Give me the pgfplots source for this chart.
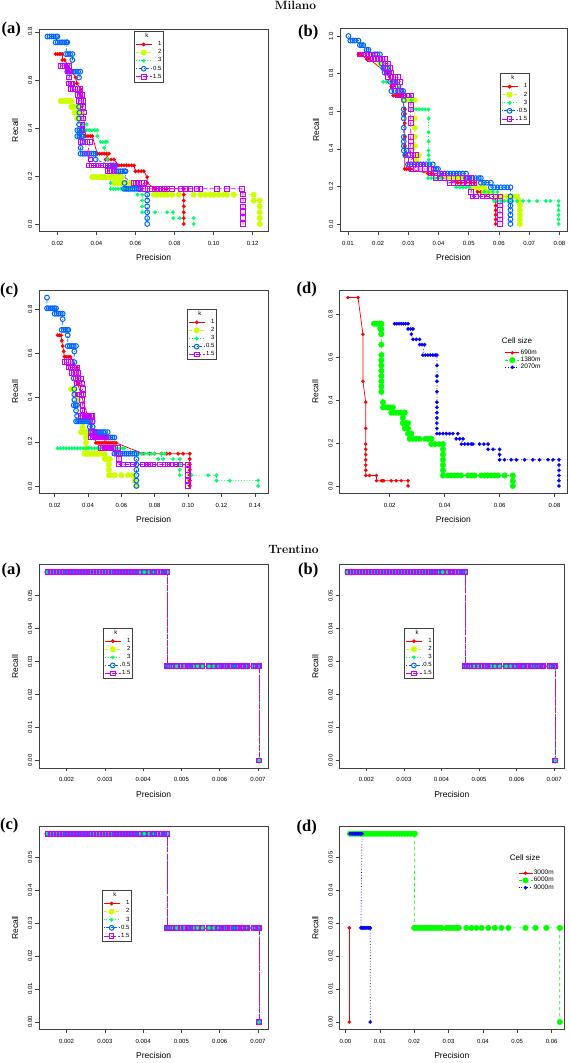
\documentclass[border=0pt]{standalone}
\usepackage{fontspec}
\usepackage{pgfplots}
\usepackage{pgfplotstable}
\pgfplotsset{compat=1.18}
\newfontfamily\sans{Liberation Sans}
\newfontfamily\tnr{Liberation Serif}
\newcommand{\tkf}{\sans\fontsize{6}{7}\selectfont}
\newcommand{\labf}{\sans\fontsize{8.5}{10}\selectfont}
\newcommand{\lgf}{\sans\fontsize{6}{7}\selectfont}
\newcommand{\pnl}{\tnr\bfseries\fontsize{16.5}{18}\selectfont}
\definecolor{rRed}{HTML}{FF0000}
\definecolor{rYel}{HTML}{CCFF00}
\definecolor{rGrn}{HTML}{00FF66}
\definecolor{rBlu}{HTML}{0066FF}
\definecolor{rMag}{HTML}{CC00FF}
\definecolor{dGrn}{HTML}{00FF00}
\definecolor{dBlu}{HTML}{0000FF}
\pgfplotsset{
  rbase/.style={
    scale only axis,
    axis line style={black!75, line width=0.55pt},
    tick align=outside, tick pos=left,
    major tick length=3.5pt,
    every tick/.style={black!75, line width=0.55pt},
    tick label style={font=\tkf, inner sep=0pt},
    yticklabel style={rotate=90, anchor=south},
    xticklabel style={anchor=north},
    xticklabel shift=6pt, yticklabel shift=3pt,
    xlabel={Precision}, ylabel={Recall},
    every axis x label/.style={at={(axis description cs:0.5,0)}, anchor=center, yshift=-26pt, font=\labf},
    every axis y label/.style={at={(axis description cs:0,0.5)}, anchor=center, xshift=-24pt, rotate=90, font=\labf},
    legend image code/.code={\draw[mark repeat=2, mark phase=2, ##1] plot coordinates {(0pt,0pt) (8pt,0pt) (16pt,0pt)};},
    legend cell align=right,
    scaled ticks=false,
  },
  klegend/.style={legend style={at={(#1)}, anchor=north west, draw=black!75, fill=white, font=\lgf, inner xsep=1pt, inner ysep=1.2pt, row sep=0.4pt, nodes={inner sep=1pt}}},
  dlegend/.style={legend style={at={(#1)}, anchor=north west, draw=none, fill=none, font=\sans\fontsize{6.5}{7}\selectfont, inner xsep=0pt, inner ysep=0pt, row sep=-0.8pt, nodes={inner sep=1pt}},
    legend cell align=left,
    legend image code/.code={\draw[mark repeat=2, mark phase=2, ##1] plot coordinates {(0pt,0pt) (7pt,0pt) (14pt,0pt)};}},
  kone/.style={draw=rRed, line width=0.75pt, solid, mark=*, mark size=1.8pt, mark options={solid, fill=rRed, draw=rRed, line width=0.3pt}},
  ktwo/.style={draw=rYel, line width=0.75pt, dash pattern=on 3pt off 3pt, mark=*, mark size=2.8pt, mark options={solid, fill=rYel, draw=rYel, line width=0.3pt}},
  kthree/.style={draw=rGrn, line width=0.75pt, dash pattern=on 0.8pt off 2pt, mark=*, mark size=1.8pt, mark options={solid, fill=rGrn, draw=rGrn, line width=0.3pt}},
  khalf/.style={draw=rBlu, line width=0.75pt, dash pattern=on 0.8pt off 2pt on 3pt off 2pt, mark=o, mark size=2.4pt, mark options={solid, draw=rBlu, line width=1pt}},
  kofive/.style={draw=rMag, line width=0.75pt, dash pattern=on 5pt off 2pt, mark=square, mark size=2.3pt, mark options={solid, draw=rMag, line width=1pt}},
  cA/.style={draw=rRed, line width=0.7pt, solid, mark=*, mark size=1.6pt, mark options={solid, fill=rRed, draw=rRed, line width=0.3pt}},
  cB/.style={draw=dGrn, line width=0.7pt, dash pattern=on 3pt off 3pt, mark=*, mark size=2.8pt, mark options={solid, fill=dGrn, draw=dGrn, line width=0.3pt}},
  cC/.style={draw=dBlu, line width=0.7pt, dash pattern=on 0.8pt off 2pt, mark=*, mark size=1.7pt, mark options={solid, fill=dBlu, draw=dBlu, line width=0.3pt}},
  ttick/.style={xmin=0.00128, xmax=0.00727, ymin=-0.00229, ymax=0.0594,
    xtick={0.002,0.003,0.004,0.005,0.006,0.007}, xticklabels={0.002,0.003,0.004,0.005,0.006,0.007},
    ytick={0,0.01,0.02,0.03,0.04,0.05}, yticklabels={0.00,0.01,0.02,0.03,0.04,0.05}},
}
\pgfplotstableread{
p r
0.00150 0.05714
0.00158 0.05714
0.00166 0.05714
0.00174 0.05714
0.00182 0.05714
0.00190 0.05714
0.00198 0.05714
0.00206 0.05714
0.00214 0.05714
0.00222 0.05714
0.00230 0.05714
0.00238 0.05714
0.00246 0.05714
0.00254 0.05714
0.00262 0.05714
0.00270 0.05714
0.00278 0.05714
0.00286 0.05714
0.00294 0.05714
0.00302 0.05714
0.00310 0.05714
0.00318 0.05714
0.00326 0.05714
0.00334 0.05714
0.00342 0.05714
0.00350 0.05714
0.00358 0.05714
0.00366 0.05714
0.00374 0.05714
0.00382 0.05714
0.00390 0.05714
0.00403 0.05714
0.00416 0.05714
0.00424 0.05714
0.00429 0.05714
0.00437 0.05714
0.00446 0.05714
0.00455 0.05714
0.00463 0.05714
0.00463 0.02857
0.00468 0.02857
0.00474 0.02857
0.00488 0.02857
0.00498 0.02857
0.00507 0.02857
0.00516 0.02857
0.00523 0.02857
0.00531 0.02857
0.00542 0.02857
0.00555 0.02857
0.00572 0.02857
0.00585 0.02857
0.00594 0.02857
0.00598 0.02857
0.00605 0.02857
0.00614 0.02857
0.00620 0.02857
0.00629 0.02857
0.00637 0.02857
0.00643 0.02857
0.00649 0.02857
0.00657 0.02857
0.00662 0.02857
0.00668 0.02857
0.00672 0.02857
0.00688 0.02857
0.00694 0.02857
0.00700 0.02857
0.00703 0.02857
0.00703 0
}\trentTab
\begin{document}
\begin{tikzpicture}
\path[use as bounding box] (0pt,0pt) rectangle (570pt,1063pt);
\node[font=\bfseries\fontsize{12}{14}\selectfont, anchor=base] at (295.5pt,1053pt) {Milano};
\node[font=\bfseries\fontsize{12}{14}\selectfont, anchor=base] at (293.5pt,509pt) {Trentino};
\node[font=\pnl] at (11.2pt,1033pt) {(a)};
\node[font=\pnl] at (308.3pt,1030pt) {(b)};
\node[font=\pnl] at (9.2pt,772.2pt) {(c)};
\node[font=\pnl] at (306.7pt,773.2pt) {(d)};
\node[font=\pnl] at (11.2pt,492.5pt) {(a)};
\node[font=\pnl] at (308.3pt,492.5pt) {(b)};
\node[font=\pnl] at (9.2pt,237.5pt) {(c)};
\node[font=\pnl] at (306.7pt,235.5pt) {(d)};

% ---------------- Milano (a)
\begin{axis}[rbase, at={(39pt,1034pt)}, anchor=north west, width=229.3pt, height=202.5pt,
  xmin=0.0106, xmax=0.1280, ymin=-0.0312, ymax=0.8117,
  xtick={0.02,0.04,0.06,0.08,0.10,0.12}, xticklabels={0.02,0.04,0.06,0.08,0.10,0.12},
  ytick={0,0.2,0.4,0.6,0.8}, yticklabels={0.0,0.2,0.4,0.6,0.8},
  klegend={0.415,0.99}]
\addlegendimage{empty legend}\addlegendentry{\llap{k\hspace{13pt}}}
\addplot[kone] coordinates {(0.0191,0.7073)(0.0200,0.7073)(0.0210,0.7073)(0.0218,0.7073)(0.0226,0.7073)
(0.0226,0.6829)(0.0237,0.6829)(0.0294,0.6098)(0.0300,0.5854)(0.0319,0.5610)
(0.0345,0.3659)(0.0357,0.3659)(0.0369,0.3659)(0.0379,0.3659)
(0.0404,0.2927)(0.0416,0.2927)(0.0428,0.2927)(0.0440,0.2927)(0.0452,0.2927)(0.0464,0.2927)
(0.0447,0.2683)(0.0460,0.2683)(0.0475,0.2683)(0.0490,0.2683)
(0.0515,0.2439)(0.0528,0.2439)(0.0541,0.2439)(0.0554,0.2439)(0.0567,0.2439)(0.0580,0.2439)(0.0592,0.2439)
(0.0600,0.2195)(0.0615,0.2195)(0.0630,0.2195)(0.0643,0.2195)
(0.0660,0.1951)(0.0660,0.1707)(0.0700,0.1463)(0.0760,0.1463)(0.0847,0.1463)
(0.0847,0.1220)(0.0847,0.0976)(0.0847,0.0732)(0.0847,0.0488)(0.0847,0.0244)(0.0847,0)};
\addlegendentry{1}
\addplot[ktwo] coordinates {(0.0217,0.5122)(0.0228,0.5122)(0.0239,0.5122)(0.0250,0.5122)(0.0261,0.5122)(0.0272,0.5122)
(0.0272,0.4878)(0.0283,0.4878)(0.0294,0.4878)(0.0305,0.4878)
(0.0288,0.4634)(0.0299,0.4634)(0.0310,0.4634)(0.0319,0.4634)
(0.0302,0.4390)(0.0313,0.4390)
(0.0379,0.1951)(0.0391,0.1951)(0.0403,0.1951)(0.0415,0.1951)(0.0427,0.1951)(0.0439,0.1951)(0.0451,0.1951)(0.0463,0.1951)(0.0475,0.1951)(0.0487,0.1951)(0.0499,0.1951)(0.0511,0.1951)(0.0523,0.1951)(0.0530,0.1951)
(0.0490,0.1707)(0.0502,0.1707)(0.0514,0.1707)(0.0526,0.1707)(0.0538,0.1707)(0.0550,0.1707)(0.0562,0.1707)(0.0574,0.1707)(0.0583,0.1707)
(0.0694,0.1220)(0.0710,0.1220)(0.0728,0.1220)(0.0745,0.1220)(0.0762,0.1220)(0.0788,0.1220)(0.0822,0.1220)(0.0898,0.1220)(0.0933,0.1220)(0.0958,0.1220)(0.0984,0.1220)(0.1001,0.1220)(0.1026,0.1220)(0.1052,0.1220)(0.1069,0.1220)(0.1103,0.1220)(0.1205,0.1220)
(0.1205,0.0976)(0.1236,0.0976)(0.1236,0.0732)(0.1236,0.0488)(0.1236,0.0244)(0.1236,0)};
\addlegendentry{2}
\addplot[kthree] coordinates {(0.0336,0.4146)(0.0350,0.4146)
(0.0336,0.3902)(0.0350,0.3902)(0.0364,0.3902)(0.0378,0.3902)(0.0392,0.3902)(0.0404,0.3902)
(0.0404,0.3659)(0.0421,0.3415)(0.0433,0.3415)(0.0445,0.3415)(0.0454,0.3415)
(0.0440,0.3171)(0.0456,0.2683)(0.0473,0.1707)
(0.0473,0.1463)(0.0486,0.1463)(0.0499,0.1463)(0.0512,0.1463)(0.0525,0.1463)(0.0538,0.1463)(0.0551,0.1463)(0.0564,0.1463)(0.0575,0.1463)
(0.0610,0.1220)(0.0634,0.1220)(0.0634,0.0976)(0.0634,0.0732)
(0.0634,0.0488)(0.0700,0.0488)(0.0762,0.0488)(0.0793,0.0488)
(0.0793,0.0244)(0.0827,0.0244)(0.0898,0.0244)(0.0898,0)};
\addlegendentry{3}
\addplot[khalf] coordinates {(0.0149,0.7805)(0.0160,0.7805)(0.0171,0.7805)(0.0182,0.7805)(0.0193,0.7805)(0.0200,0.7805)
(0.0191,0.7561)(0.0202,0.7561)(0.0213,0.7561)(0.0224,0.7561)(0.0235,0.7561)(0.0246,0.7561)(0.0251,0.7561)
(0.0243,0.7073)(0.0254,0.7073)(0.0265,0.7073)(0.0277,0.7073)(0.0277,0.6829)
(0.0251,0.6341)(0.0262,0.6341)(0.0273,0.6341)(0.0284,0.6341)(0.0295,0.6341)(0.0306,0.6341)(0.0317,0.6341)
(0.0311,0.6098)(0.0311,0.4878)(0.0313,0.4634)(0.0311,0.4390)(0.0311,0.4146)
(0.0302,0.3902)(0.0313,0.3902)(0.0324,0.3902)(0.0330,0.3902)
(0.0302,0.3659)(0.0313,0.3659)(0.0324,0.3659)(0.0330,0.3659)
(0.0328,0.3415)(0.0319,0.3171)
(0.0319,0.2927)(0.0330,0.2927)(0.0341,0.2927)(0.0352,0.2927)(0.0363,0.2927)(0.0374,0.2927)(0.0385,0.2927)(0.0396,0.2927)
(0.0396,0.2683)(0.0473,0.2439)(0.0486,0.2439)(0.0498,0.2439)
(0.0490,0.2195)(0.0501,0.2195)(0.0512,0.2195)(0.0523,0.2195)(0.0534,0.2195)(0.0545,0.2195)(0.0549,0.2195)
(0.0544,0.1707)
(0.0541,0.1463)(0.0552,0.1463)(0.0563,0.1463)(0.0574,0.1463)(0.0585,0.1463)(0.0596,0.1463)(0.0607,0.1463)(0.0618,0.1463)(0.0626,0.1463)
(0.0660,0.1220)(0.0660,0.0976)(0.0660,0.0732)(0.0660,0.0488)(0.0660,0.0244)(0.0660,0)};
\addlegendentry{0.5}
\addplot[kofive] coordinates {(0.0217,0.6585)(0.0228,0.6585)(0.0239,0.6585)(0.0250,0.6585)(0.0260,0.6585)
(0.0251,0.6341)(0.0260,0.6341)(0.0268,0.6341)(0.0260,0.6098)
(0.0260,0.5854)(0.0270,0.5854)(0.0277,0.5854)
(0.0268,0.5610)(0.0280,0.5610)(0.0292,0.5610)(0.0305,0.5610)(0.0315,0.5610)
(0.0307,0.5366)(0.0316,0.5366)(0.0325,0.5366)
(0.0311,0.5122)(0.0322,0.5122)(0.0334,0.5122)
(0.0332,0.4878)(0.0336,0.4634)(0.0332,0.4390)(0.0328,0.4146)(0.0328,0.3902)
(0.0319,0.3415)(0.0331,0.3415)(0.0343,0.3415)(0.0355,0.3415)(0.0368,0.3415)
(0.0353,0.2927)(0.0369,0.2683)
(0.0362,0.2439)(0.0374,0.2439)(0.0386,0.2439)(0.0398,0.2439)(0.0410,0.2439)(0.0422,0.2439)(0.0434,0.2439)(0.0446,0.2439)(0.0458,0.2439)(0.0470,0.2439)(0.0482,0.2439)(0.0490,0.2439)
(0.0456,0.2195)(0.0468,0.2195)(0.0480,0.2195)(0.0490,0.2195)
(0.0590,0.1707)(0.0604,0.1707)(0.0618,0.1707)(0.0632,0.1707)(0.0643,0.1707)
(0.0626,0.1463)(0.0638,0.1463)(0.0650,0.1463)(0.0662,0.1463)(0.0674,0.1463)(0.0686,0.1463)(0.0698,0.1463)(0.0710,0.1463)(0.0728,0.1463)(0.0745,0.1463)(0.0762,0.1463)(0.0788,0.1463)(0.0830,0.1463)(0.0856,0.1463)(0.0882,0.1463)(0.0916,0.1463)(0.0933,0.1463)(0.1018,0.1463)(0.1070,0.1463)(0.1145,0.1463)
(0.1151,0.1220)(0.1151,0.0976)(0.1151,0.0732)(0.1151,0.0488)(0.1151,0.0244)(0.1151,0)};
\addlegendentry{1.5}
\end{axis}

% ---------------- Milano (b)
\begin{axis}[rbase, at={(340pt,1034.5pt)}, anchor=north west, width=227pt, height=203pt,
  xmin=0.0074, xmax=0.0825, ymin=-0.04, ymax=1.04,
  xtick={0.01,0.02,0.03,0.04,0.05,0.06,0.07,0.08}, xticklabels={0.01,0.02,0.03,0.04,0.05,0.06,0.07,0.08},
  ytick={0,0.2,0.4,0.6,0.8,1.0}, yticklabels={0.0,0.2,0.4,0.6,0.8,1.0},
  klegend={0.705,0.78}]
\addlegendimage{empty legend}\addlegendentry{\llap{k\hspace{13pt}}}
\addplot[kone] coordinates {(0.0135,0.9024)(0.0143,0.9024)(0.0162,0.8780)(0.0170,0.8780)
(0.0228,0.8049)(0.0244,0.7561)(0.0244,0.7317)
(0.0250,0.6829)(0.0258,0.6829)(0.0266,0.6829)(0.0277,0.6829)
(0.0288,0.6098)(0.0288,0.5854)(0.0288,0.5366)(0.0288,0.4634)(0.0288,0.4146)(0.0288,0.3659)
(0.0288,0.2927)(0.0294,0.2927)(0.0300,0.2927)(0.0306,0.2927)
(0.0365,0.2683)(0.0376,0.2683)
(0.0463,0.2195)(0.0475,0.2195)(0.0490,0.2195)(0.0505,0.2195)(0.0518,0.2195)
(0.0529,0.1707)(0.0540,0.1707)
(0.0589,0.1220)(0.0589,0.0976)(0.0589,0.0732)(0.0589,0.0488)(0.0589,0.0244)(0.0589,0)};
\addlegendentry{1}
\addplot[ktwo] coordinates {(0.0184,0.9024)(0.0206,0.8537)(0.0212,0.8537)(0.0233,0.8293)(0.0242,0.8049)(0.0250,0.7805)
(0.0290,0.6585)(0.0300,0.6585)(0.0310,0.6585)(0.0321,0.6585)
(0.0321,0.5610)(0.0321,0.5122)(0.0321,0.4634)(0.0321,0.4146)
(0.0321,0.3659)(0.0328,0.3659)(0.0335,0.3659)(0.0326,0.3415)
(0.0430,0.2439)(0.0440,0.2439)(0.0450,0.2439)(0.0462,0.2439)(0.0474,0.2439)(0.0485,0.2439)
(0.0507,0.1951)(0.0520,0.1951)(0.0535,0.1951)(0.0551,0.1951)
(0.0551,0.1707)(0.0562,0.1707)(0.0573,0.1707)
(0.0595,0.1463)(0.0610,0.1463)(0.0627,0.1463)(0.0645,0.1463)(0.0660,0.1463)
(0.0666,0.1220)(0.0669,0.0976)(0.0669,0.0732)(0.0669,0.0488)(0.0669,0.0244)(0.0669,0)};
\addlegendentry{2}
\addplot[kthree] coordinates {(0.0217,0.7561)(0.0228,0.7561)(0.0272,0.7317)(0.0310,0.6585)
(0.0316,0.6098)(0.0326,0.6098)(0.0336,0.6098)(0.0346,0.6098)(0.0356,0.6098)(0.0367,0.6098)
(0.0367,0.5610)(0.0367,0.4878)(0.0367,0.4390)(0.0367,0.3902)(0.0367,0.3659)(0.0367,0.3415)(0.0367,0.3171)
(0.0365,0.2439)(0.0376,0.2439)(0.0387,0.2439)(0.0398,0.2439)(0.0409,0.2439)
(0.0458,0.1951)(0.0470,0.1951)(0.0480,0.1951)(0.0491,0.1951)(0.0502,0.1951)
(0.0551,0.1707)(0.0565,0.1707)(0.0580,0.1707)(0.0595,0.1707)
(0.0584,0.1220)(0.0595,0.1220)(0.0606,0.1220)(0.0617,0.1220)(0.0630,0.1220)(0.0645,0.1220)(0.0660,0.1220)(0.0680,0.1220)(0.0700,0.1220)(0.0726,0.1220)(0.0755,0.1220)(0.0770,0.1220)(0.0797,0.1220)
(0.0797,0.0976)(0.0797,0.0732)(0.0797,0.0488)(0.0797,0.0244)(0.0797,0)};
\addlegendentry{3}
\addplot[khalf] coordinates {(0.0102,1.0000)(0.0108,0.9756)(0.0116,0.9756)(0.0124,0.9756)(0.0135,0.9756)
(0.0140,0.9512)(0.0146,0.9512)(0.0151,0.9512)(0.0162,0.9268)(0.0168,0.9268)
(0.0190,0.9024)(0.0197,0.9024)(0.0206,0.9024)(0.0212,0.8537)
(0.0217,0.8293)(0.0225,0.8293)(0.0230,0.8293)(0.0222,0.8049)(0.0230,0.8049)(0.0235,0.8049)
(0.0240,0.7561)(0.0250,0.7561)(0.0255,0.7561)
(0.0244,0.7073)(0.0255,0.7073)(0.0266,0.7073)(0.0277,0.7073)(0.0283,0.7073)
(0.0285,0.6585)(0.0285,0.6098)(0.0285,0.5854)(0.0285,0.5610)(0.0285,0.5122)(0.0285,0.4634)(0.0285,0.4390)(0.0285,0.4146)
(0.0285,0.3902)(0.0295,0.3902)(0.0290,0.3659)(0.0300,0.3659)
(0.0299,0.3171)(0.0310,0.3171)(0.0320,0.3171)(0.0330,0.3171)(0.0340,0.3171)(0.0350,0.3171)(0.0360,0.3171)(0.0370,0.3171)(0.0381,0.3171)
(0.0385,0.2927)(0.0392,0.2927)(0.0398,0.2927)
(0.0409,0.2683)(0.0420,0.2683)(0.0430,0.2683)(0.0440,0.2683)(0.0450,0.2683)(0.0460,0.2683)(0.0470,0.2683)(0.0480,0.2683)(0.0491,0.2683)
(0.0491,0.2439)(0.0502,0.2439)(0.0512,0.2439)(0.0523,0.2439)(0.0533,0.2439)(0.0540,0.2439)
(0.0540,0.2195)(0.0550,0.2195)(0.0560,0.2195)(0.0573,0.2195)
(0.0573,0.1951)(0.0584,0.1951)(0.0595,0.1951)(0.0606,0.1951)(0.0617,0.1951)(0.0627,0.1951)(0.0638,0.1951)
(0.0638,0.1463)(0.0638,0.1220)(0.0638,0.0976)(0.0638,0.0732)(0.0638,0.0488)(0.0638,0.0244)(0.0638,0)};
\addlegendentry{0.5}
\addplot[kofive] coordinates {(0.0140,0.9024)(0.0150,0.9024)(0.0160,0.9024)(0.0170,0.9024)(0.0180,0.9024)(0.0190,0.9024)
(0.0173,0.8780)(0.0183,0.8780)(0.0193,0.8780)(0.0203,0.8780)(0.0213,0.8780)(0.0223,0.8780)
(0.0223,0.8537)(0.0233,0.8537)(0.0223,0.8293)(0.0233,0.8293)(0.0239,0.8293)
(0.0228,0.8049)(0.0236,0.8049)(0.0244,0.8049)
(0.0233,0.7805)(0.0244,0.7805)(0.0255,0.7805)(0.0266,0.7805)
(0.0255,0.7561)(0.0263,0.7561)(0.0272,0.7561)(0.0250,0.7317)(0.0258,0.7317)(0.0266,0.7317)
(0.0272,0.7073)(0.0266,0.6829)(0.0277,0.6829)(0.0288,0.6829)(0.0299,0.6829)(0.0310,0.6829)
(0.0308,0.6341)(0.0308,0.6098)(0.0308,0.5610)(0.0308,0.5366)(0.0308,0.4634)(0.0308,0.4390)(0.0308,0.4146)(0.0308,0.3902)
(0.0305,0.3659)(0.0316,0.3659)(0.0326,0.3659)(0.0308,0.3415)
(0.0305,0.3171)(0.0320,0.3171)(0.0335,0.3171)(0.0350,0.3171)
(0.0310,0.2927)(0.0325,0.2927)(0.0340,0.2927)(0.0355,0.2927)(0.0370,0.2927)(0.0376,0.2927)
(0.0376,0.2683)(0.0390,0.2683)(0.0405,0.2683)(0.0414,0.2683)
(0.0392,0.2439)(0.0405,0.2439)(0.0420,0.2439)(0.0435,0.2439)(0.0450,0.2439)(0.0465,0.2439)(0.0480,0.2439)(0.0495,0.2439)(0.0507,0.2439)
(0.0436,0.2195)(0.0450,0.2195)(0.0465,0.2195)(0.0480,0.2195)(0.0495,0.2195)(0.0510,0.2195)(0.0518,0.2195)
(0.0507,0.1707)(0.0512,0.1463)(0.0523,0.1463)(0.0545,0.1463)(0.0560,0.1463)(0.0575,0.1463)(0.0590,0.1463)(0.0603,0.1463)
(0.0603,0.1220)(0.0603,0.0976)(0.0603,0.0732)(0.0603,0.0488)(0.0603,0.0244)(0.0603,0)};
\addlegendentry{1.5}
\end{axis}

% ---------------- Milano (c)
\begin{axis}[rbase, at={(39pt,773pt)}, anchor=north west, width=229.3pt, height=203.5pt,
  xmin=0.0106, xmax=0.1481, ymin=-0.0342, ymax=0.888,
  xtick={0.02,0.04,0.06,0.08,0.10,0.12,0.14}, xticklabels={0.02,0.04,0.06,0.08,0.10,0.12,0.14},
  ytick={0,0.2,0.4,0.6,0.8}, yticklabels={0.0,0.2,0.4,0.6,0.8},
  klegend={0.646,0.907}]
\addlegendimage{empty legend}\addlegendentry{\llap{k\hspace{13pt}}}
\addplot[kone] coordinates {(0.0218,0.6829)(0.0228,0.6829)(0.0238,0.6829)(0.0242,0.6585)(0.0248,0.6341)(0.0254,0.6098)
(0.0258,0.5854)(0.0270,0.5854)(0.0282,0.5854)(0.0294,0.5854)(0.0334,0.5366)(0.0338,0.4634)
(0.0448,0.1951)(0.0460,0.1951)(0.0472,0.1951)(0.0484,0.1951)(0.0496,0.1951)(0.0508,0.1951)(0.0520,0.1951)(0.0532,0.1951)(0.0544,0.1951)(0.0556,0.1951)(0.0568,0.1951)
(0.0730,0.1463)(0.0770,0.1463)(0.0800,0.1463)(0.0840,0.1463)(0.0870,0.1463)(0.0890,0.1463)(0.0940,0.1463)(0.0970,0.1463)(0.1010,0.1463)
(0.1010,0.1220)(0.1010,0.0976)(0.1010,0.0732)(0.1010,0.0488)(0.1010,0.0244)(0.1010,0)};
\addlegendentry{1}
\addplot[ktwo] coordinates {(0.0298,0.4390)(0.0308,0.4390)(0.0318,0.4390)(0.0328,0.4146)(0.0338,0.3902)(0.0368,0.2683)
(0.0358,0.2439)(0.0370,0.2439)(0.0382,0.2439)(0.0394,0.2439)(0.0406,0.2439)(0.0418,0.2439)
(0.0388,0.2195)(0.0388,0.1951)(0.0388,0.1707)
(0.0378,0.1463)(0.0390,0.1463)(0.0402,0.1463)(0.0414,0.1463)(0.0426,0.1463)(0.0438,0.1463)(0.0450,0.1463)(0.0462,0.1463)(0.0474,0.1463)(0.0486,0.1463)(0.0498,0.1463)
(0.0500,0.1220)(0.0510,0.1220)(0.0520,0.1220)(0.0530,0.1220)(0.0525,0.0976)(0.0525,0.0732)
(0.0525,0.0488)(0.0535,0.0488)(0.0560,0.0488)(0.0600,0.0488)(0.0640,0.0488)(0.0670,0.0488)
(0.0680,0.0244)(0.0690,0)};
\addlegendentry{2}
\addplot[kthree] coordinates {(0.0218,0.1707)(0.0235,0.1707)(0.0252,0.1707)(0.0269,0.1707)(0.0286,0.1707)(0.0303,0.1707)(0.0320,0.1707)(0.0337,0.1707)(0.0354,0.1707)(0.0371,0.1707)(0.0388,0.1707)(0.0405,0.1707)(0.0422,0.1707)(0.0439,0.1707)(0.0456,0.1707)(0.0473,0.1707)(0.0490,0.1707)(0.0507,0.1707)(0.0524,0.1707)(0.0541,0.1707)(0.0558,0.1707)(0.0575,0.1707)(0.0592,0.1707)(0.0609,0.1707)(0.0618,0.1707)
(0.0700,0.1463)(0.0720,0.1463)(0.0740,0.1463)(0.0760,0.1463)(0.0780,0.1463)(0.0800,0.1463)(0.0840,0.1463)(0.0860,0.1463)
(0.0820,0.1220)(0.0850,0.1220)(0.0910,0.1220)(0.0950,0.1220)(0.0950,0.0976)(0.0950,0.0732)
(0.0950,0.0488)(0.1020,0.0488)(0.1120,0.0488)(0.1170,0.0488)
(0.1170,0.0244)(0.1250,0.0244)(0.1420,0.0244)(0.1420,0)};
\addlegendentry{3}
\addplot[khalf] coordinates {(0.0154,0.8537)
(0.0154,0.8049)(0.0165,0.8049)(0.0176,0.8049)(0.0187,0.8049)(0.0198,0.8049)(0.0208,0.8049)
(0.0200,0.7805)(0.0212,0.7805)(0.0224,0.7805)(0.0236,0.7805)(0.0248,0.7805)(0.0248,0.7561)
(0.0242,0.7073)(0.0254,0.7073)(0.0266,0.7073)(0.0278,0.7073)(0.0282,0.7073)(0.0278,0.6829)
(0.0278,0.6341)(0.0290,0.6341)(0.0302,0.6341)(0.0314,0.6341)(0.0328,0.6341)
(0.0318,0.6098)(0.0318,0.5610)(0.0314,0.4878)(0.0318,0.4390)(0.0318,0.4146)(0.0318,0.3902)
(0.0314,0.3659)(0.0326,0.3659)(0.0334,0.3659)(0.0328,0.3415)(0.0334,0.3171)
(0.0328,0.2927)(0.0340,0.2927)(0.0352,0.2927)(0.0364,0.2927)(0.0376,0.2927)(0.0388,0.2927)(0.0400,0.2927)(0.0412,0.2927)(0.0428,0.2927)
(0.0410,0.2683)(0.0428,0.2683)
(0.0418,0.2439)(0.0430,0.2439)(0.0442,0.2439)(0.0454,0.2439)(0.0466,0.2439)(0.0478,0.2439)(0.0490,0.2439)(0.0502,0.2439)(0.0518,0.2439)
(0.0510,0.2195)(0.0522,0.2195)(0.0534,0.2195)(0.0546,0.2195)(0.0558,0.2195)
(0.0558,0.1463)(0.0570,0.1463)(0.0582,0.1463)(0.0594,0.1463)(0.0606,0.1463)(0.0618,0.1463)(0.0630,0.1463)(0.0642,0.1463)(0.0654,0.1463)(0.0666,0.1463)(0.0678,0.1463)(0.0690,0.1463)
(0.0690,0.1220)(0.0690,0.0976)(0.0690,0.0732)(0.0690,0.0488)(0.0690,0.0244)(0.0690,0)};
\addlegendentry{0.5}
\addplot[kofive] coordinates {(0.0258,0.5610)(0.0270,0.5610)(0.0282,0.5610)(0.0298,0.5610)
(0.0282,0.5366)(0.0294,0.5366)(0.0306,0.5366)(0.0318,0.5366)(0.0334,0.5366)
(0.0304,0.5122)(0.0316,0.5122)(0.0328,0.5122)(0.0344,0.5122)
(0.0328,0.4878)(0.0340,0.4878)(0.0358,0.4878)(0.0334,0.4634)(0.0346,0.4634)(0.0364,0.4634)
(0.0370,0.4390)(0.0338,0.4146)(0.0350,0.4146)(0.0362,0.4146)(0.0374,0.4146)
(0.0364,0.3902)(0.0368,0.3659)(0.0368,0.3415)
(0.0358,0.3171)(0.0370,0.3171)(0.0382,0.3171)(0.0394,0.3171)(0.0406,0.3171)(0.0418,0.3171)(0.0428,0.3171)
(0.0428,0.2927)(0.0418,0.2439)(0.0428,0.2439)(0.0440,0.2439)
(0.0418,0.2195)(0.0430,0.2195)(0.0442,0.2195)(0.0454,0.2195)(0.0466,0.2195)(0.0478,0.2195)(0.0490,0.2195)(0.0502,0.2195)(0.0510,0.2195)
(0.0478,0.1707)(0.0490,0.1707)(0.0502,0.1707)(0.0514,0.1707)(0.0526,0.1707)(0.0538,0.1707)(0.0550,0.1707)(0.0562,0.1707)(0.0578,0.1707)
(0.0580,0.1463)(0.0586,0.1220)
(0.0586,0.0976)(0.0610,0.0976)(0.0640,0.0976)(0.0670,0.0976)(0.0730,0.0976)(0.0750,0.0976)(0.0770,0.0976)(0.0790,0.0976)(0.0830,0.0976)(0.0860,0.0976)(0.0880,0.0976)(0.0900,0.0976)(0.0930,0.0976)(0.0950,0.0976)(0.1000,0.0976)
(0.1000,0.0732)(0.1000,0.0488)(0.1000,0.0244)(0.1000,0)};
\addlegendentry{1.5}
\end{axis}

% ---------------- Milano (d)
\begin{axis}[rbase, at={(339.3pt,773pt)}, anchor=north west, width=228.2pt, height=203.5pt,
  xmin=0.0017, xmax=0.0847, ymin=-0.0351, ymax=0.9131,
  xtick={0.02,0.04,0.06,0.08}, xticklabels={0.02,0.04,0.06,0.08},
  ytick={0,0.2,0.4,0.6,0.8}, yticklabels={0.0,0.2,0.4,0.6,0.8},
  dlegend={0.725,0.712}]
\addplot[cA] coordinates {(0.0048,0.8780)(0.0085,0.8780)(0.0103,0.7073)(0.0103,0.4878)(0.0113,0.3902)(0.0113,0.2683)
(0.0113,0.1951)(0.0113,0.1707)(0.0113,0.1463)(0.0113,0.1220)(0.0113,0.0976)(0.0113,0.0732)(0.0113,0.0488)
(0.0127,0.0488)(0.0152,0.0488)(0.0152,0.0244)(0.0170,0.0244)(0.0175,0.0244)(0.0179,0.0244)(0.0206,0.0244)(0.0224,0.0244)(0.0242,0.0244)(0.0267,0.0244)(0.0267,0)};
\addlegendentry{690m}
\addplot[cB] coordinates {(0.0143,0.7561)(0.0150,0.7561)(0.0157,0.7561)(0.0164,0.7561)(0.0170,0.7561)
(0.0166,0.7317)(0.0170,0.7317)(0.0170,0.7073)(0.0170,0.6585)
(0.0170,0.6098)(0.0170,0.5854)(0.0170,0.5610)(0.0170,0.5366)(0.0170,0.5122)(0.0170,0.4878)(0.0170,0.4634)(0.0170,0.4390)
(0.0176,0.3902)(0.0176,0.3659)(0.0185,0.3659)(0.0194,0.3659)(0.0203,0.3659)(0.0212,0.3659)
(0.0206,0.3415)(0.0215,0.3415)(0.0224,0.3415)(0.0233,0.3415)(0.0242,0.3415)(0.0250,0.3415)(0.0255,0.3415)
(0.0248,0.3171)(0.0248,0.2927)(0.0258,0.2927)(0.0267,0.2927)(0.0255,0.2683)(0.0267,0.2683)
(0.0267,0.2439)(0.0279,0.2439)
(0.0273,0.2195)(0.0285,0.2195)(0.0297,0.2195)(0.0309,0.2195)(0.0330,0.2195)(0.0340,0.2195)(0.0352,0.2195)
(0.0352,0.1951)(0.0365,0.1951)(0.0380,0.1951)(0.0394,0.1951)
(0.0394,0.1707)(0.0394,0.1463)(0.0394,0.1220)(0.0394,0.0976)(0.0394,0.0732)
(0.0394,0.0488)(0.0412,0.0488)(0.0424,0.0488)(0.0436,0.0488)(0.0448,0.0488)(0.0460,0.0488)(0.0485,0.0488)(0.0497,0.0488)(0.0509,0.0488)(0.0533,0.0488)(0.0545,0.0488)(0.0557,0.0488)(0.0570,0.0488)(0.0582,0.0488)(0.0594,0.0488)(0.0618,0.0488)(0.0648,0.0488)
(0.0648,0.0244)(0.0648,0)};
\addlegendentry{1380m}
\addplot[cC] coordinates {(0.0218,0.7561)(0.0226,0.7561)(0.0234,0.7561)(0.0242,0.7561)(0.0250,0.7561)(0.0258,0.7561)(0.0267,0.7561)
(0.0267,0.7317)(0.0276,0.7317)(0.0285,0.7317)(0.0279,0.7073)
(0.0285,0.6829)(0.0297,0.6829)(0.0309,0.6829)(0.0309,0.6585)(0.0318,0.6585)(0.0327,0.6585)
(0.0321,0.6098)(0.0330,0.6098)(0.0339,0.6098)(0.0348,0.6098)(0.0357,0.6098)(0.0366,0.6098)(0.0372,0.6098)
(0.0372,0.5610)(0.0372,0.5122)(0.0372,0.4878)(0.0372,0.4390)(0.0372,0.3902)(0.0372,0.3659)(0.0372,0.3415)(0.0372,0.3171)(0.0372,0.2927)(0.0372,0.2683)
(0.0372,0.2439)(0.0382,0.2439)(0.0394,0.2439)(0.0406,0.2439)(0.0418,0.2439)(0.0430,0.2439)(0.0448,0.2439)
(0.0442,0.2195)(0.0455,0.2195)(0.0467,0.2195)
(0.0461,0.1951)(0.0473,0.1951)(0.0485,0.1951)(0.0497,0.1951)(0.0503,0.1951)(0.0527,0.1951)(0.0543,0.1951)(0.0558,0.1951)
(0.0558,0.1707)(0.0576,0.1707)(0.0600,0.1707)(0.0600,0.1463)
(0.0600,0.1220)(0.0618,0.1220)(0.0642,0.1220)(0.0661,0.1220)(0.0691,0.1220)(0.0721,0.1220)(0.0745,0.1220)(0.0776,0.1220)(0.0794,0.1220)(0.0816,0.1220)
(0.0816,0.0976)(0.0816,0.0732)(0.0816,0.0488)(0.0816,0.0244)(0.0816,0)};
\addlegendentry{2070m}
\node[font=\sans\fontsize{8}{9}\selectfont] at (rel axis cs:0.779,0.749) {Cell size};
\end{axis}

% ---------------- Trentino (a)
\begin{axis}[rbase, ttick, at={(39pt,498.3pt)}, anchor=north west, width=229.3pt, height=203.3pt,
  klegend={0.28,0.69}]
\addlegendimage{empty legend}\addlegendentry{\llap{k\hspace{13pt}}}
\addplot[kone] table {\trentTab}; \addlegendentry{1}
\addplot[ktwo] table {\trentTab}; \addlegendentry{2}
\addplot[kthree] table {\trentTab}; \addlegendentry{3}
\addplot[khalf] table {\trentTab}; \addlegendentry{0.5}
\addplot[kofive] table {\trentTab}; \addlegendentry{1.5}
\end{axis}

% ---------------- Trentino (b)
\begin{axis}[rbase, ttick, at={(339.3pt,498.3pt)}, anchor=north west, width=225pt, height=203.3pt,
  klegend={0.289,0.69}]
\addlegendimage{empty legend}\addlegendentry{\llap{k\hspace{13pt}}}
\addplot[kone] table {\trentTab}; \addlegendentry{1}
\addplot[ktwo] table {\trentTab}; \addlegendentry{2}
\addplot[kthree] table {\trentTab}; \addlegendentry{3}
\addplot[khalf] table {\trentTab}; \addlegendentry{0.5}
\addplot[kofive] table {\trentTab}; \addlegendentry{1.5}
\end{axis}

% ---------------- Trentino (c)
\begin{axis}[rbase, ttick, at={(39pt,236.7pt)}, anchor=north west, width=229.3pt, height=203.3pt,
  klegend={0.275,0.686}]
\addlegendimage{empty legend}\addlegendentry{\llap{k\hspace{13pt}}}
\addplot[kone] table {\trentTab}; \addlegendentry{1}
\addplot[ktwo] table {\trentTab}; \addlegendentry{2}
\addplot[kthree] table {\trentTab}; \addlegendentry{3}
\addplot[khalf] table {\trentTab}; \addlegendentry{0.5}
\addplot[kofive] table {\trentTab}; \addlegendentry{1.5}
\end{axis}

% ---------------- Trentino (d)
\begin{axis}[rbase, at={(339.3pt,236.7pt)}, anchor=north west, width=225pt, height=203.3pt,
  xmin=-0.0018, xmax=0.0637, ymin=-0.00229, ymax=0.0594,
  xtick={0,0.01,0.02,0.03,0.04,0.05,0.06}, xticklabels={0.00,0.01,0.02,0.03,0.04,0.05,0.06},
  ytick={0,0.01,0.02,0.03,0.04,0.05}, yticklabels={0.00,0.01,0.02,0.03,0.04,0.05},
  dlegend={0.794,0.79}]
\addplot[cA] coordinates {(0.0011,0.02857)(0.0011,0.02857)(0.0011,0)};
\addlegendentry{3000m}
\addplot[cB] coordinates {(0.0013,0.05714)(0.0021,0.05714)(0.0029,0.05714)(0.0037,0.05714)(0.0045,0.05714)(0.0053,0.05714)(0.0061,0.05714)(0.0069,0.05714)(0.0077,0.05714)(0.0085,0.05714)(0.0093,0.05714)(0.0101,0.05714)(0.0109,0.05714)(0.0117,0.05714)(0.0125,0.05714)(0.0133,0.05714)(0.0141,0.05714)(0.0149,0.05714)(0.0157,0.05714)(0.0165,0.05714)(0.0173,0.05714)(0.0181,0.05714)(0.0189,0.05714)(0.0197,0.05714)(0.0202,0.05714)
(0.0200,0.02857)(0.0207,0.02857)(0.0214,0.02857)(0.0221,0.02857)(0.0229,0.02857)(0.0236,0.02857)(0.0243,0.02857)(0.0250,0.02857)(0.0257,0.02857)(0.0265,0.02857)(0.0272,0.02857)(0.0280,0.02857)(0.0294,0.02857)(0.0301,0.02857)(0.0309,0.02857)(0.0316,0.02857)(0.0324,0.02857)(0.0330,0.02857)(0.0352,0.02857)(0.0367,0.02857)(0.0381,0.02857)(0.0396,0.02857)(0.0416,0.02857)(0.0435,0.02857)(0.0454,0.02857)(0.0474,0.02857)(0.0524,0.02857)(0.0553,0.02857)(0.0585,0.02857)(0.0624,0.02857)
(0.0624,0)};
\addlegendentry{6000m}
\addplot[cC] coordinates {(0.0013,0.05714)(0.0016,0.05714)(0.0019,0.05714)(0.0022,0.05714)(0.0025,0.05714)(0.0028,0.05714)(0.0031,0.05714)(0.0034,0.05714)(0.0037,0.05714)(0.0040,0.05714)(0.0043,0.05714)(0.0046,0.05714)(0.0048,0.05714)
(0.0045,0.02857)(0.0048,0.02857)(0.0051,0.02857)(0.0054,0.02857)(0.0057,0.02857)(0.0060,0.02857)(0.0063,0.02857)(0.0066,0.02857)(0.0069,0.02857)(0.0072,0.02857)(0.0072,0)};
\addlegendentry{9000m}
\node[font=\sans\fontsize{8}{9}\selectfont] at (rel axis cs:0.825,0.844) {Cell size};
\end{axis}
\end{tikzpicture}
\end{document}
